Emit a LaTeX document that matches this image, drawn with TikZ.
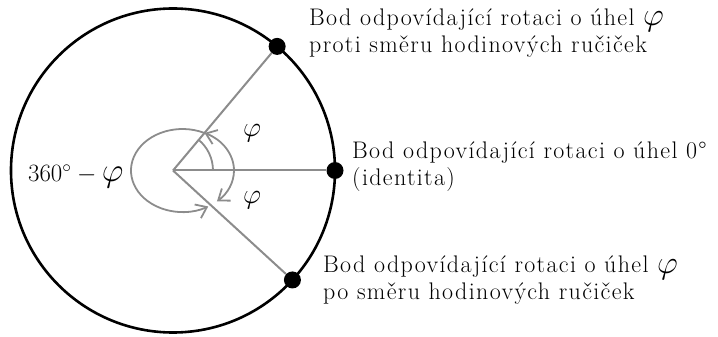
\documentclass[tikz,border=0pt]{standalone}
\usepackage{fontspec}
\usepackage{graphicx}
\usetikzlibrary{arrows.meta}
\newfontfamily\labelfont[LetterSpace=5.6]{Latin Modern Roman}
\newcommand{\vphi}{\scalebox{1.3}{$\varphi$}}
\begin{document}
\begin{tikzpicture}[x=1pt,y=1pt,
  rim/.style={line width=2.6pt, draw=black},
  ray/.style={line width=2pt, draw=gray!90},
  dotmark/.style={circle, fill=black, inner sep=0pt, minimum size=17pt},
  anglearc/.style={line width=1.8pt, draw=gray!90},
  arrowarc/.style={anglearc, -{Straight Barb[length=10pt,width=15pt]}},
  lbl/.style={font=\labelfont\fontsize{24}{27}\selectfont, align=left, anchor=base west, inner sep=0pt},
  anglelbl/.style={font=\fontsize{22}{27}\selectfont, inner sep=0pt},
]
\useasboundingbox (-173,-166.5) rectangle (545,170.5);
\coordinate (O) at (0,0);
\draw[rim] (O) circle[radius=162];
\node[dotmark] (pccw) at (50:162) {};
\node[dotmark] (pid) at (0:162) {};
\node[dotmark] (pcw) at (-42.5:162) {};
\draw[ray] (O) -- (pccw);
\draw[ray] (O) -- (pid);
\draw[ray] (O) -- (pcw);
% angle arcs
\coordinate (eR) at (61,0);
\coordinate (eU) at (31.5,37.5);
\coordinate (iR) at (40,0);
\draw[anglearc] (iR) arc[start angle=0, end angle=50, radius=40];
\draw[arrowarc] (eR) arc[start angle=0, end angle=64.7, x radius=51.5, y radius=41.5];
\draw[arrowarc] (eR) arc[start angle=0, end angle=-48, x radius=51.5, y radius=41.5];
\draw[arrowarc] (eU) arc[start angle=64.7, end angle=300, x radius=51.5, y radius=41.5];
% labels
\node[anglelbl] (phiU) at (79,37.5) {\scalebox{1.35}{$\varphi$}};
\node[anglelbl] (phiD) at (79,-29.5) {\scalebox{1.35}{$\varphi$}};
\node[lbl, font=\fontsize{24}{28}\selectfont] (full) at (-145,-11.5) {\(360^{\circ}-{}\)\scalebox{1.35}{$\varphi$}};
\node[lbl] (tccw) at (136,117.5) {Bod odpovídající rotaci o úhel \vphi\\proti směru hodinových ručiček};
\node[lbl] (tid) at (179,-15.5) {Bod odpovídající rotaci o úhel 0°\\(identita)};
\node[lbl] (tcw) at (150,-129.5) {Bod odpovídající rotaci o úhel \vphi\\po směru hodinových ručiček};
\end{tikzpicture}
\end{document}
